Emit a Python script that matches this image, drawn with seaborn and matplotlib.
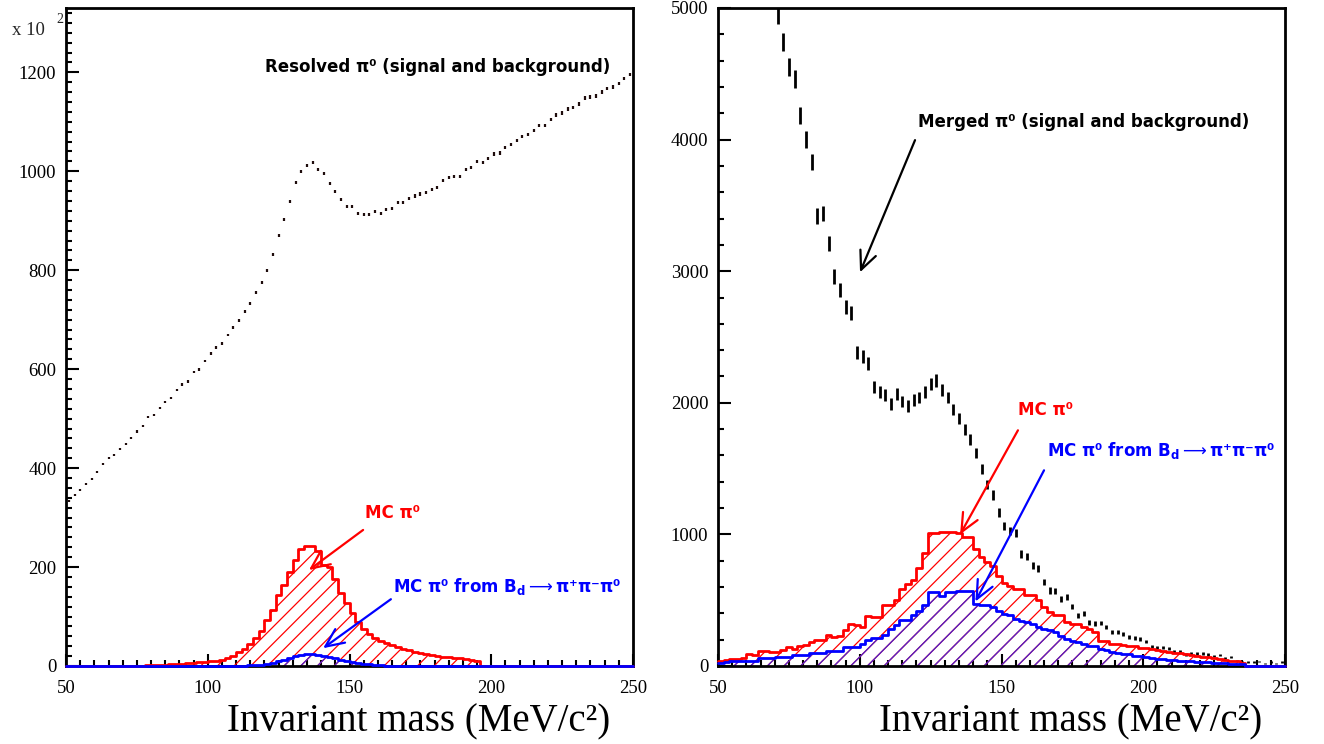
import numpy as np
import matplotlib
matplotlib.use("Agg")
import matplotlib.pyplot as plt
from matplotlib.ticker import MultipleLocator
import seaborn as sns

# ---------------- data ----------------
bin_edges = list(range(50, 252, 2))          # 2 MeV bins, 50..250
bin_centres = np.array(bin_edges[:-1]) + 1

# Left panel: resolved pi0 (signal + background), units of 10^2 entries
resolved = [334, 346, 356, 368, 378, 393, 408, 420, 426, 438, 449, 461, 474, 485, 503, 507,
            521, 533, 541, 558, 569, 575, 594, 599, 617, 632, 644, 652, 669, 684, 698, 716,
            733, 755, 775, 800, 832, 871, 902, 938, 977, 999, 1012, 1017, 1003, 995, 976, 959,
            942, 928, 928, 914,
            913, 913, 918, 915, 923, 925, 936, 937, 945, 950, 954, 957, 963, 968, 981, 988,
            990, 990, 1004, 1008, 1019, 1018, 1026, 1035, 1037, 1048, 1054, 1062, 1071, 1075,
            1082, 1092, 1092, 1104, 1114, 1118, 1126, 1129, 1136, 1148, 1150, 1152, 1160, 1167,
            1170, 1177, 1187, 1195]

# Left panel: MC pi0 (red) and MC pi0 from Bd -> pi+ pi- pi0 (blue)
mc_left = ([0] * 12 +
           [1, 1, 2, 2, 3, 3, 4, 4, 5, 6, 7, 8, 9] +
           [11, 11, 13, 17, 21, 28, 35, 44, 56, 70, 93, 113, 144, 164, 191, 215, 236, 242, 242,
            232, 205, 201, 176, 148, 128, 108, 88, 74, 64, 56, 50, 46, 42, 38, 35, 32, 29, 27,
            25, 23, 21, 19, 18, 17, 16, 15, 13, 11] +
           [0] * 27)
bd_left = ([0] * 30 +
           [1, 1, 2, 2, 3, 5, 7, 10, 13, 17, 20, 22, 24, 25, 23, 21, 19, 16, 13, 11, 9, 7, 5,
            4, 3, 2, 1, 1, 1] +
           [0] * 41)

# Right panel: merged pi0 (signal + background), entries
merged = [7800, 7400, 7000, 6700, 6400, 6100, 5800, 5600, 5400, 5150,
          4950, 4740, 4550, 4460, 4180, 4000, 3830, 3420, 3440, 3210, 2960, 2860, 2730, 2680,
          2380, 2350, 2300, 2120, 2080, 2060, 1990, 2070, 2010, 1975, 2020, 2040, 2080, 2140,
          2170, 2100, 2040, 1950, 1880, 1800, 1720, 1620, 1500, 1380, 1300, 1170, 1063, 1025,
          1010, 853, 833, 764, 739, 637, 574, 569, 511, 523, 452, 384, 397, 333, 321, 326,
          295, 257, 257, 245, 219, 214, 207, 186, 151, 143, 138, 135, 113, 113, 87, 93, 93,
          97, 87, 75, 85, 59, 67, 42, 29, 29, 29, 34, 21, 29, 21, 29]

mc_right = [41, 45, 53, 53, 60, 92, 80, 112, 112, 104, 104, 120, 142, 130, 155, 160, 181, 198,
            198, 239, 219, 225, 270, 321, 310, 300, 377, 372, 372, 461, 461, 500, 588, 620, 651,
            748, 860, 1013, 1013, 1015, 1020, 1020, 1010, 982, 982, 886, 830, 791, 760, 682,
            630, 606, 588, 588, 537, 537, 500, 448, 410, 384, 384, 333, 321, 321, 295, 280, 257,
            193, 193, 168, 168, 160, 155, 150, 140, 135, 130, 120, 117, 110, 99, 95, 92, 85, 79,
            70, 66, 60, 53, 45, 41, 35, 20] + [0] * 7
bd_right = [20, 30, 36, 36, 41, 41, 41, 59, 59, 59, 71, 71, 71, 87, 87, 87, 97, 97, 97, 117,
            117, 117, 142, 142, 142, 168, 198, 214, 214, 237, 282, 308, 346, 346, 384, 420, 461,
            562, 562, 529, 562, 562, 567, 567, 567, 471, 466, 466, 450, 420, 397, 384, 359, 345,
            333, 320, 300, 282, 270, 257, 230, 206, 193, 181, 170, 155, 150, 130, 125, 110, 97,
            92, 90, 79, 75, 70, 60, 53, 50, 46, 44, 41, 40, 35, 30, 28, 28, 25, 22, 20, 18, 15,
            12] + [0] * 7

x_ticks = [50, 100, 150, 200, 250]
xlabel_text = "Invariant mass (MeV/c\u00b2)"

# ---------------- style ----------------
sns.set_theme(style="white")
plt.rcParams["font.family"] = ["DejaVu Sans"]
plt.rcParams["mathtext.fontset"] = "dejavusans"
plt.rcParams["hatch.linewidth"] = 0.9

RED = "#ff0000"
BLUE = "#0000ff"
PURPLE = "#4a22d0"
SERIF = "Liberation Serif"

fig = plt.figure(figsize=(13.24, 7.44), dpi=100)
axL = fig.add_axes([66 / 1324, 78 / 744, 567 / 1324, 658 / 744])
axR = fig.add_axes([718 / 1324, 78 / 744, 567 / 1324, 658 / 744])


def draw_hist(ax, values, line_color, hatch_color):
    w = np.asarray(values, dtype=float)
    sns.histplot(x=bin_centres, weights=w, bins=bin_edges,
                 element="step", fill=True, ax=ax, color=hatch_color, facecolor="none",
                 edgecolor=hatch_color, hatch="//", linewidth=0)
    n_before = len(ax.lines)
    sns.histplot(x=bin_centres, weights=w, bins=bin_edges,
                 element="step", fill=False, ax=ax, color=line_color, linewidth=2)
    for ln in ax.lines[n_before:]:
        ln.set_zorder(3)
        ln.set_clip_on(False)


# Left panel
draw_hist(axL, mc_left, RED, RED)
draw_hist(axL, bd_left, BLUE, PURPLE)
res = np.array(resolved, dtype=float)
axL.errorbar(bin_centres, res, yerr=np.sqrt(res * 100) / 100, fmt="s", ms=1.6,
             color="#1e0c0c", ecolor="#1e0c0c", elinewidth=1.6, capsize=0, mew=0)

# Right panel
draw_hist(axR, mc_right, RED, RED)
draw_hist(axR, bd_right, BLUE, PURPLE)
mer = np.array(merged, dtype=float)
axR.errorbar(bin_centres, mer, yerr=np.sqrt(mer), fmt="none", ecolor="black",
             elinewidth=2, capsize=0)

axL.set_ylim(0, 1330)
axR.set_ylim(0, 5000)

for ax, ymaj, ymin in ((axL, 200, 20), (axR, 1000, 200)):
    ax.set_xlim(50, 250)
    ax.set_xticks(x_ticks)
    ax.xaxis.set_minor_locator(MultipleLocator(5))
    ax.yaxis.set_major_locator(MultipleLocator(ymaj))
    ax.yaxis.set_minor_locator(MultipleLocator(ymin))
    ax.tick_params(which="both", direction="in", top=False, right=False, left=True,
                   bottom=True, color="black", width=1.5)
    ax.tick_params(which="major", length=9)
    ax.tick_params(which="minor", length=4.5)
    ax.tick_params(axis="x", which="major", pad=10)
    ax.tick_params(axis="y", which="major", pad=7)
    for lab in ax.get_xticklabels() + ax.get_yticklabels():
        lab.set_fontfamily(SERIF)
        lab.set_fontsize(13.5)
        lab.set_color("black")
    for s in ax.spines.values():
        s.set_linewidth(2)
        s.set_color("black")
        s.set_visible(True)
    ax.set_ylabel("")
    ax.set_xlabel(xlabel_text, fontfamily=SERIF, fontsize=28, color="black")
    ax.xaxis.label.set_ha("right")
    ax.xaxis.label.set_va("center")
    ax.xaxis.set_label_coords(0.9594, -0.085)
    ax.set_facecolor("white")
    ax.grid(False)

fig.patch.set_facecolor("white")

# "x 10^2" multiplier
fig.text(12 / 1324, 1 - 35 / 744, "x 10", fontfamily=SERIF, fontsize=13.5, va="baseline")
fig.text(56 / 1324, 1 - 23 / 744, "2", fontfamily=SERIF, fontsize=10, va="baseline")

TXT = dict(fontsize=12, fontweight="bold", va="center", ha="left")
BD_TEXT = "MC \u03c0\u2070 from B$_\\mathbf{d}$$\\longrightarrow$\u03c0\u207a\u03c0\u207b\u03c0\u2070"


def arrow(ax, start, tip, color):
    ax.annotate("", xy=tip, xytext=start,
                arrowprops=dict(arrowstyle="->,head_length=1.1,head_width=0.5",
                                color=color, lw=1.6, shrinkA=0, shrinkB=0))


# Left annotations
axL.text(120.2, 1211, "Resolved \u03c0\u2070 (signal and background)", color="black", **TXT)
axL.text(155.5, 309, "MC \u03c0\u2070", color=RED, **TXT)
arrow(axL, (154.8, 275), (135.7, 194), RED)
axL.text(165.3, 161, BD_TEXT, color=BLUE, **TXT)
arrow(axL, (164.6, 135), (140.7, 36), BLUE)

# Right annotations
axR.text(120.5, 4133, "Merged \u03c0\u2070 (signal and background)", color="black", **TXT)
arrow(axR, (119.5, 3996), (100.1, 2992), "black")
axR.text(155.8, 1943, "MC \u03c0\u2070", color=RED, **TXT)
arrow(axR, (155.8, 1791), (135.4, 1000), RED)
axR.text(166.0, 1639, BD_TEXT, color=BLUE, **TXT)
arrow(axR, (165.0, 1487), (140.8, 490), BLUE)

fig.savefig("out.png", dpi=100, facecolor="white")
